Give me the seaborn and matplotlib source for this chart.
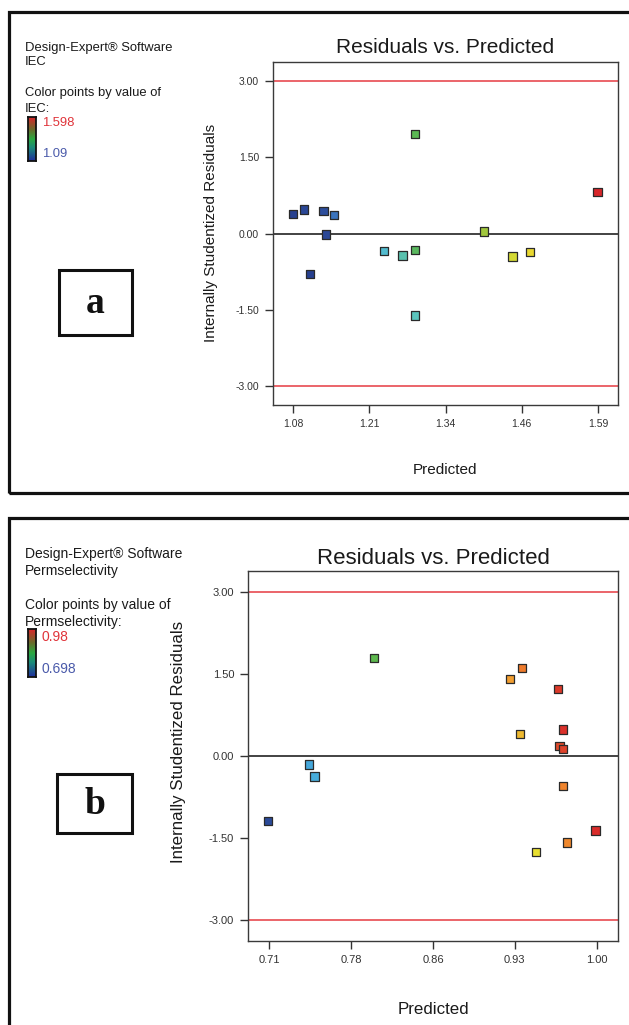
import numpy as np
import pandas as pd
import matplotlib
matplotlib.use("Agg")
import matplotlib.pyplot as plt
import matplotlib.patches as mpatches
from matplotlib.colors import LinearSegmentedColormap
import seaborn as sns

# ---------------- data ----------------
# Panel a: IEC
iec_pred = [1.080, 1.098, 1.131, 1.149, 1.135, 1.109, 1.232, 1.263, 1.284, 1.284, 1.284, 1.399, 1.447, 1.476, 1.589]
iec_resid = [0.38, 0.47, 0.44, 0.36, -0.02, -0.80, -0.34, -0.43, -0.32, -1.61, 1.95, 0.04, -0.45, -0.36, 0.82]
iec_actual = [1.09, 1.10, 1.11, 1.16, 1.10, 1.09, 1.24, 1.27, 1.33, 1.26, 1.34, 1.40, 1.44, 1.46, 1.598]
iec_range = [1.09, 1.598]
iec_xticks = ["1.08", "1.21", "1.34", "1.46", "1.59"]

# Panel b: Permselectivity
perm_pred = [0.803, 0.934, 0.923, 0.966, 0.932, 0.970, 0.967, 0.970, 0.745, 0.750, 0.970, 0.709, 0.999, 0.974, 0.946]
perm_resid = [1.79, 1.61, 1.40, 1.22, 0.40, 0.48, 0.18, 0.12, -0.16, -0.38, -0.55, -1.19, -1.37, -1.59, -1.76]
perm_actual = [0.839, 0.945, 0.924, 0.972, 0.915, 0.975, 0.965, 0.968, 0.768, 0.771, 0.940, 0.706, 0.977, 0.938, 0.901]
perm_range = [0.698, 0.98]
perm_xticks = ["0.71", "0.78", "0.86", "0.93", "1.00"]

yticks = [-3.0, -1.5, 0.0, 1.5, 3.0]
ytick_labels = ["-3.00", "-1.50", "0.00", "1.50", "3.00"]
limits = [-3.0, 3.0]

# ---------------- style ----------------
sns.set_style("white")
plt.rcParams["font.family"] = ["Liberation Sans", "DejaVu Sans"]

W, H = 629, 1025
fig = plt.figure(figsize=(W / 100, H / 100), dpi=100)

def fx(px):
    return px / W

def fy(py):
    return 1 - py / H

point_cmap = LinearSegmentedColormap.from_list("de", [
    (0.00, "#27408f"), (0.12, "#3a6cb8"), (0.25, "#45a8dc"), (0.32, "#5cc8c8"),
    (0.40, "#55b888"), (0.50, "#5cb84e"), (0.62, "#a6c83c"), (0.72, "#e8e030"),
    (0.80, "#f2a030"), (0.88, "#ee7a2c"), (0.95, "#e04a2a"), (1.00, "#d8262a")])
legend_cmap = LinearSegmentedColormap.from_list("leg", [
    (0.0, "#1f2f9c"), (0.3, "#1a8a7a"), (0.5, "#2aa840"), (0.72, "#6a6a2a"), (1.0, "#d8262a")])


def panel(box, xlim, ylim, x, y, c, crange, xtick_labels, tsize, lsize, ticksize,
          title_pad, xlabel_y, ylabel_xy):
    l, t, r, b = box
    ax = fig.add_axes([fx(l), fy(b), fx(r) - fx(l), (b - t) / H])
    df = pd.DataFrame({"Predicted": x, "Residual": y, "Actual": c})
    sns.scatterplot(data=df, x="Predicted", y="Residual", hue="Actual",
                    palette=point_cmap, hue_norm=tuple(crange), marker="s", s=36,
                    edgecolor="#2a2a2a", linewidth=0.9, legend=False, ax=ax, zorder=5)
    ax.axhline(limits[1], color="#e84a50", lw=1.2, zorder=2)
    ax.axhline(limits[0], color="#e84a50", lw=1.2, zorder=2)
    ax.axhline(0, color="#222222", lw=1.2, zorder=2)
    ax.set_xlim(*xlim)
    ax.set_ylim(*ylim)
    xt = np.linspace(float(xtick_labels[0]), float(xtick_labels[-1]), len(xtick_labels))
    ax.set_xticks(xt)
    ax.set_xticklabels(xtick_labels)
    ax.set_yticks(yticks)
    ax.set_yticklabels(ytick_labels)
    ax.tick_params(axis="both", which="both", bottom=True, left=True, direction="out",
                   length=6, width=1, color="#333333", labelsize=ticksize,
                   labelcolor="#333333", pad=4)
    for s in ax.spines.values():
        s.set_color("#3a3a3a")
        s.set_linewidth(1.0)
    ax.set_title("Residuals vs. Predicted", fontsize=tsize, color="#1a1a1a", pad=title_pad)
    ax.set_xlabel("Predicted", fontsize=lsize, color="#1a1a1a")
    ax.set_ylabel("Internally Studentized Residuals", fontsize=lsize, color="#1a1a1a")
    ax.xaxis.set_label_coords(0.5, -(xlabel_y - b) / (b - t))
    ax.xaxis.label.set_va("center")
    ax.yaxis.set_label_coords(-(l - ylabel_xy[0]) / (r - l), (b - ylabel_xy[1]) / (b - t))
    ax.yaxis.label.set_va("center")
    return ax


# Panel a
panel((273, 62, 618, 405), (1.0466, 1.6234), (-3.37, 3.37), iec_pred, iec_resid,
      iec_actual, iec_range, iec_xticks, 15, 11, 7.5, 6.5, 470, (211, 233))
# Panel b
panel((248, 570.5, 618, 941), (0.6911, 1.0189), (-3.39, 3.39), perm_pred, perm_resid,
      perm_actual, perm_range, perm_xticks, 16, 12.2, 8, 5, 1010, (178, 742))


def side_text(lines, cbar, labels, fsize):
    for txt, py in lines:
        fig.text(fx(25), fy(py), txt, fontsize=fsize, color="#1a1a1a", va="center", ha="left")
    x0, y0, x1, y1 = cbar
    cax = fig.add_axes([fx(x0), fy(y1), fx(x1) - fx(x0), (y1 - y0) / H])
    cax.imshow(np.linspace(1, 0, 100).reshape(-1, 1), aspect="auto", cmap=legend_cmap)
    cax.set_xticks([])
    cax.set_yticks([])
    for s in cax.spines.values():
        s.set_visible(True)
        s.set_color("#111111")
        s.set_linewidth(1.3)
    for txt, py, col in labels:
        fig.text(fx(42), fy(py), txt, fontsize=fsize, color=col, va="center", ha="left")


side_text([("Design-Expert® Software", 48), ("IEC", 62),
           ("Color points by value of", 93), ("IEC:", 109)],
          (28, 117, 36, 161),
          [(f"{iec_range[1]:.3f}", 123, "#e0343a"), (f"{iec_range[0]:.2f}", 154, "#4a5aaa")], 9.4)
side_text([("Design-Expert® Software", 554), ("Permselectivity", 571),
           ("Color points by value of", 605), ("Permselectivity:", 622)],
          (28, 629, 36, 677),
          [(f"{perm_range[1]:.2f}", 637, "#e0343a"), (f"{perm_range[0]:.3f}", 669, "#4a5aaa")], 10)

# outer frames
for (t, b) in [(12, 493), (518, 1045)]:
    fig.patches.append(mpatches.Rectangle((fx(9), fy(b)), fx(650) - fx(9), (b - t) / H,
                                          transform=fig.transFigure, fill=False,
                                          edgecolor="#111111", linewidth=2.3, clip_on=False))

# letter boxes
for (l, t, r, b, letter) in [(59, 270, 132, 335, "a"), (57, 774, 132, 833, "b")]:
    fig.patches.append(mpatches.Rectangle((fx(l), fy(b)), fx(r) - fx(l), (b - t) / H,
                                          transform=fig.transFigure, fill=False,
                                          edgecolor="#111111", linewidth=2.2))
    fig.text(fx((l + r) / 2), fy((t + b) / 2 + 1), letter, fontsize=27, fontweight="bold",
             family=["Liberation Serif", "DejaVu Serif"], ha="center", va="center",
             color="#111111")

fig.savefig("out.png", dpi=100, facecolor="white")
